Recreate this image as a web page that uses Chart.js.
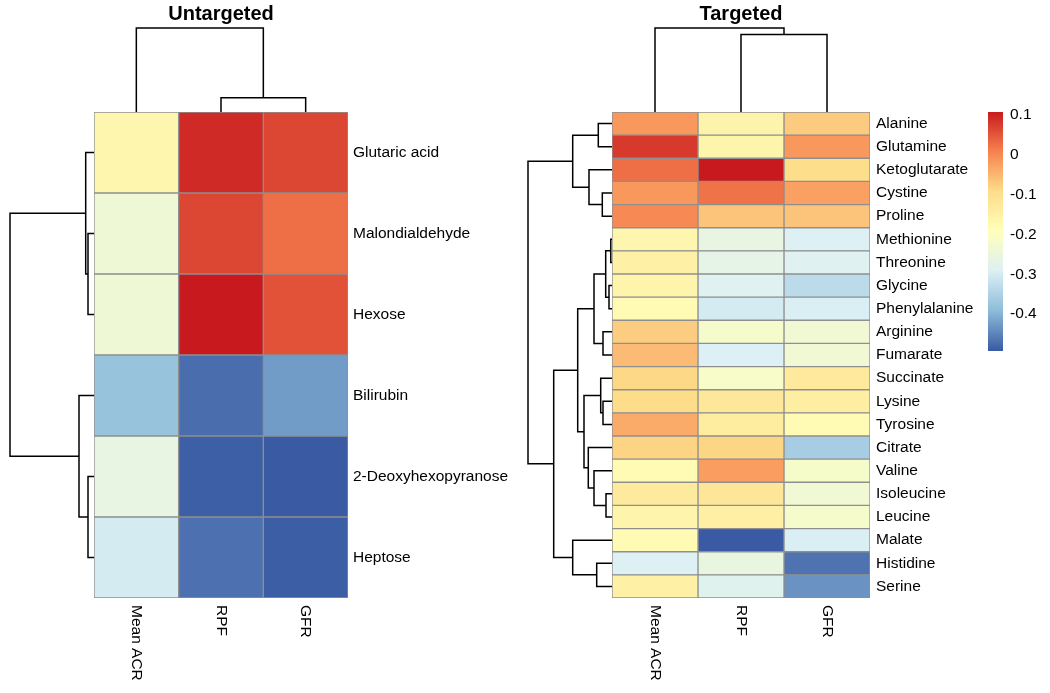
<!DOCTYPE html>
<html>
<head>
<meta charset="utf-8">
<script src="https://cdn.jsdelivr.net/npm/chart.js@4/dist/chart.umd.min.js"></script>
<style>
  html, body { margin: 0; padding: 0; background: #fff; }
  body { width: 1050px; height: 693px; position: relative; overflow: hidden; }
  canvas { position: absolute; }
</style>
</head>
<body>
<canvas id="uColTree" width="254" height="112" style="left:94px;top:0px"></canvas>
<canvas id="uRowTree" width="94" height="486" style="left:0px;top:112px"></canvas>
<canvas id="uHeat" width="424" height="601" style="left:94px;top:92px"></canvas>
<canvas id="tColTree" width="258" height="112" style="left:612px;top:0px"></canvas>
<canvas id="tRowTree" width="92" height="486" style="left:520px;top:112px"></canvas>
<canvas id="tHeat" width="368" height="601" style="left:612px;top:92px"></canvas>
<canvas id="scaleBar" width="70" height="279" style="left:980px;top:92px"></canvas>
<script>
// columns shared by both panels
const columns = ['Mean ACR', 'RPF', 'GFR'];

// Untargeted
const untargetedRows = ['Glutaric acid', 'Malondialdehyde', 'Hexose', 'Bilirubin', '2-Deoxyhexopyranose', 'Heptose'];
const untargetedACR = [-0.165, -0.238, -0.238, -0.38, -0.259, -0.303];
const untargetedRPF = [0.093, 0.065, 0.108, -0.474, -0.489, -0.47];
const untargetedGFR = [0.065, 0.026, 0.054, -0.426, -0.493, -0.49];
// merges like hclust: negative = leaf (1-based, display order), positive = earlier merge; last = height
const untargetedRowMerge = [[-2, -3, 6], [-1, 1, 8.3], [-5, -6, 6], [-4, 3, 15], [2, 4, 84]];
const untargetedColMerge = [[-2, -3, 14], [-1, 1, 83]];

// Targeted
const targetedRows = ['Alanine', 'Glutamine', 'Ketoglutarate', 'Cystine', 'Proline', 'Methionine', 'Threonine',
  'Glycine', 'Phenylalanine', 'Arginine', 'Fumarate', 'Succinate', 'Lysine', 'Tyrosine', 'Citrate', 'Valine',
  'Isoleucine', 'Leucine', 'Malate', 'Histidine', 'Serine'];
const targetedACR = [-0.016, 0.077, 0.026, -0.016, 0.0, -0.165, -0.15, -0.16, -0.18, -0.075, -0.055,
  -0.087, -0.092, -0.036, -0.082, -0.18, -0.13, -0.16, -0.178, -0.29, -0.15];
const targetedRPF = [-0.157, -0.163, 0.108, 0.023, -0.065, -0.26, -0.267, -0.285, -0.302, -0.22, -0.293,
  -0.215, -0.121, -0.136, -0.083, -0.022, -0.12, -0.145, -0.493, -0.255, -0.28];
const targetedGFR = [-0.073, -0.016, -0.095, -0.025, -0.065, -0.29, -0.285, -0.334, -0.295, -0.235, -0.236,
  -0.129, -0.141, -0.18, -0.361, -0.218, -0.236, -0.22, -0.295, -0.468, -0.435];
const targetedRowMerge = [
  [-1, -2, 13.7], [-4, -5, 9.7], [-3, 2, 23], [1, 3, 39.3],
  [-6, -7, 1.2], [-8, -9, 3], [5, 6, 6.3], [-10, -11, 9], [7, 8, 18],
  [-13, -14, 9], [-12, 10, 11.3], [-17, -18, 6], [-16, 12, 18], [-15, 13, 23.7],
  [11, 14, 28], [9, 15, 34.3], [-20, -21, 15.3], [-19, 17, 39.3], [16, 18, 58.3], [4, 19, 84]
];
const targetedColMerge = [[-2, -3, 76.5], [-1, 1, 83]];

// colour scale
const colorMin = -0.493;
const colorMax = 0.108;
const legendTicks = [0.1, 0, -0.1, -0.2, -0.3, -0.4];
const palette = ['#3a5ba3', '#8dbcda', '#dcf0f5', '#ffffbb', '#fddd8a', '#f7824f', '#c81a1e'];

Chart.defaults.font.family = '"Liberation Sans", Arial, sans-serif';
Chart.defaults.color = '#000';

function hexRgb(h) {
  return [1, 3, 5].map(i => parseInt(h.slice(i, i + 2), 16));
}

function heatColor(v) {
  const t = Math.min(1, Math.max(0, (v - colorMin) / (colorMax - colorMin))) * (palette.length - 1);
  const i = Math.min(Math.floor(t), palette.length - 2);
  const f = t - i;
  const a = hexRgb(palette[i]), b = hexRgb(palette[i + 1]);
  const c = a.map((x, k) => Math.round(x + (b[k] - x) * f));
  return 'rgb(' + c.join(',') + ')';
}

// turn the merge table into U shaped polylines
function treeSegments(merges) {
  const pos = [], hgt = [], out = [];
  const at = id => id < 0 ? [(-id) - 0.5, 0] : [pos[id - 1], hgt[id - 1]];
  merges.forEach(([a, b, h]) => {
    const [pa, ha] = at(a), [pb, hb] = at(b);
    out.push([[pa, ha], [pa, h], [pb, h], [pb, hb]]);
    pos.push((pa + pb) / 2);
    hgt.push(h);
  });
  return out;
}

function treeDatasets(merges, horizontal) {
  return treeSegments(merges).map(seg => ({
    data: seg.map(([p, h]) => horizontal ? { x: h, y: p } : { x: p, y: h }),
    showLine: true,
    borderColor: '#000',
    borderWidth: 1.5,
    pointRadius: 0,
    clip: false
  }));
}

function rowTree(id, merges, n, padLeft) {
  new Chart(document.getElementById(id), {
    type: 'scatter',
    data: { datasets: treeDatasets(merges, true) },
    options: {
      responsive: false, animation: false,
      layout: { padding: { left: padLeft } },
      plugins: { legend: { display: false }, tooltip: { enabled: false } },
      scales: {
        x: { type: 'linear', min: 0, max: 84, reverse: true, display: false },
        y: { type: 'linear', min: 0, max: n, reverse: true, display: false }
      }
    }
  });
}

function colTree(id, merges, title) {
  new Chart(document.getElementById(id), {
    type: 'scatter',
    data: { datasets: treeDatasets(merges, false) },
    options: {
      responsive: false, animation: false,
      plugins: {
        legend: { display: false }, tooltip: { enabled: false },
        title: { display: true, text: title, color: '#000', font: { size: 20, weight: 'bold' }, padding: { top: 2, bottom: 2 } }
      },
      scales: {
        x: { type: 'linear', min: 0, max: columns.length, display: false },
        y: { type: 'linear', min: 0, max: 83, display: false }
      }
    }
  });
}

const colLabels = {
  id: 'colLabels',
  afterDraw(chart) {
    const { ctx, chartArea, scales: { x } } = chart;
    ctx.save();
    ctx.fillStyle = '#000';
    ctx.font = '15.5px "Liberation Sans", Arial, sans-serif';
    ctx.textAlign = 'left';
    ctx.textBaseline = 'middle';
    columns.forEach((lab, j) => {
      ctx.save();
      ctx.translate(x.getPixelForValue(j + 0.5), chartArea.bottom + 7);
      ctx.rotate(Math.PI / 2);
      ctx.fillText(lab, 0, 0);
      ctx.restore();
    });
    ctx.restore();
  }
};

function heatmap(id, rows, cols, labelWidth, labelPad) {
  new Chart(document.getElementById(id), {
    type: 'bar',
    data: {
      labels: rows,
      datasets: cols.map((vals, j) => ({
        data: vals.map(() => [j, j + 1]),
        backgroundColor: vals.map(heatColor),
        borderColor: '#8f8f8f',
        borderWidth: 1,
        borderSkipped: false,
        barPercentage: 1,
        categoryPercentage: 1,
        grouped: false
      }))
    },
    options: {
      indexAxis: 'y',
      responsive: false, animation: false,
      layout: { padding: { top: 20, bottom: 95 } },
      plugins: { legend: { display: false }, tooltip: { enabled: false } },
      scales: {
        x: { type: 'linear', min: 0, max: cols.length, display: false },
        y: {
          position: 'right',
          grid: { display: false, drawTicks: false },
          border: { display: false },
          ticks: { color: '#000', padding: labelPad, autoSkip: false, font: { size: 15.5 } },
          afterFit(s) { s.width = labelWidth; }
        }
      }
    },
    plugins: [colLabels]
  });
}

colTree('uColTree', untargetedColMerge, 'Untargeted');
rowTree('uRowTree', untargetedRowMerge, untargetedRows.length, 10);
heatmap('uHeat', untargetedRows, [untargetedACR, untargetedRPF, untargetedGFR], 170, 5);

colTree('tColTree', targetedColMerge, 'Targeted');
rowTree('tRowTree', targetedRowMerge, targetedRows.length, 8);
heatmap('tHeat', targetedRows, [targetedACR, targetedRPF, targetedGFR], 110, 6);

// colour key
const sliceCount = 120;
const sliceStep = (colorMax - colorMin) / sliceCount;
const slices = Array.from({ length: sliceCount }, (_, i) => colorMin + i * sliceStep);
new Chart(document.getElementById('scaleBar'), {
  type: 'bar',
  data: {
    labels: [''],
    datasets: slices.map(lo => ({
      data: [[lo, lo + sliceStep]],
      backgroundColor: heatColor(lo + sliceStep / 2),
      borderWidth: 0,
      barPercentage: 1,
      categoryPercentage: 1,
      grouped: false
    }))
  },
  options: {
    responsive: false, animation: false,
    layout: { padding: { top: 20, bottom: 20, left: 8 } },
    plugins: { legend: { display: false }, tooltip: { enabled: false } },
    scales: {
      x: { display: false },
      y: {
        min: colorMin, max: colorMax,
        position: 'right',
        grid: { display: false, drawTicks: false },
        border: { display: false },
        afterBuildTicks(s) { s.ticks = legendTicks.map(v => ({ value: v })); },
        ticks: { color: '#000', padding: 7, font: { size: 15.5 }, callback: v => String(v) },
        afterFit(s) { s.width = 47; }
      }
    }
  }
});
</script>
</body>
</html>
